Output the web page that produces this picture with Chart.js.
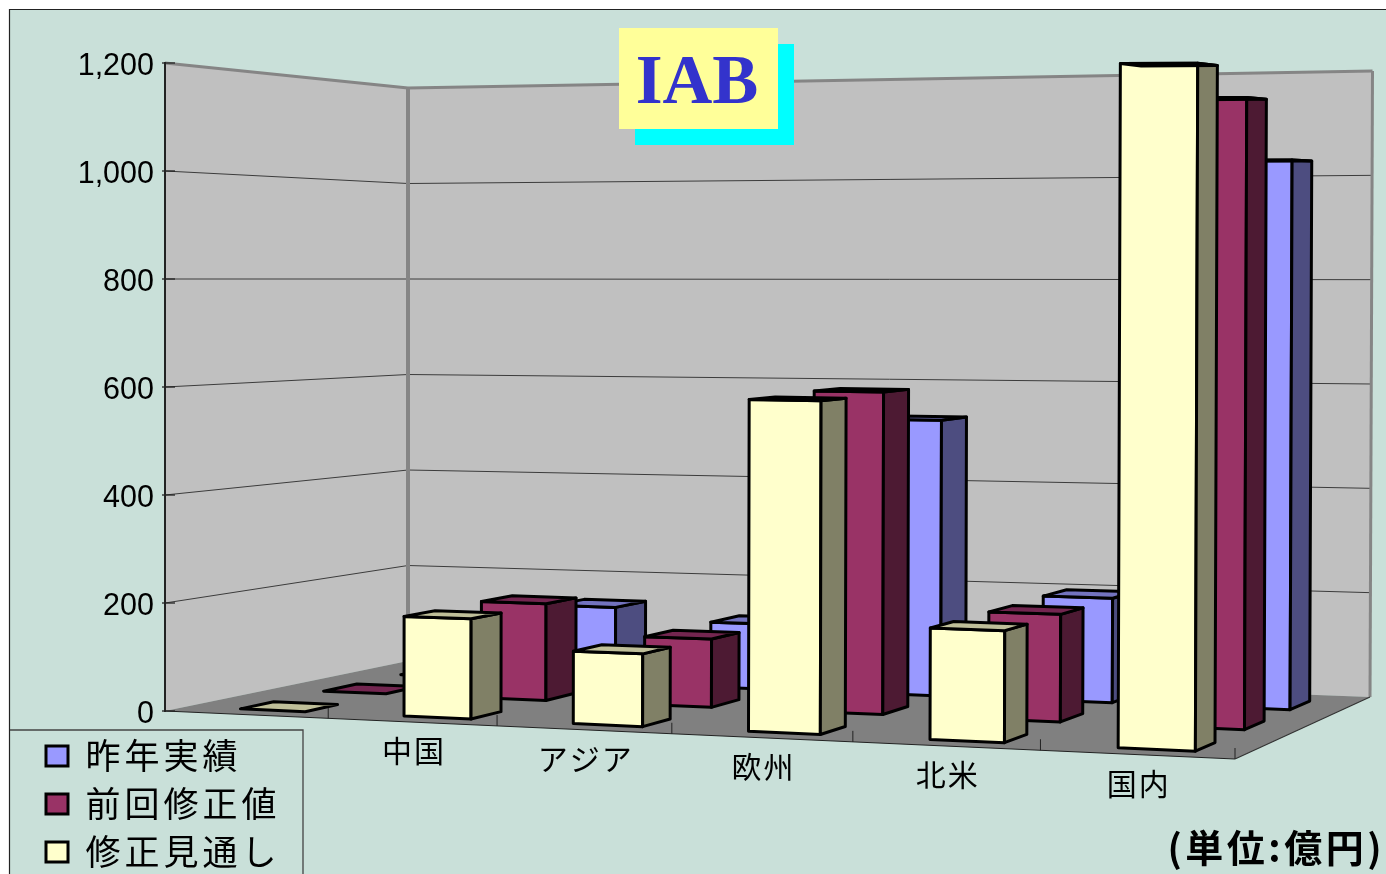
<!DOCTYPE html>
<html lang="ja">
<head>
<meta charset="utf-8">
<title>IAB</title>
<style>
html,body{margin:0;padding:0;background:#fff;}
canvas{display:block;}
</style>
<script src="https://cdn.jsdelivr.net/npm/chart.js@4/dist/chart.umd.min.js"></script>
</head>
<body>
<canvas id="c" width="1386" height="874"></canvas>
<script>
const categories = ['', '中国', 'アジア', '欧州', '北米', '国内'];
const seriesNames = ['昨年実績', '前回修正値', '修正見通し'];
const lastYearActual = [0, 150, 127, 530, 198, 1027];
const previousRevision = [0, 184, 128, 596, 196, 1136];
const revisedOutlook = [0, 183, 131, 592, 196, 1187];
const axisTop = 1200;
const axisStep = 200;
const chartTitle = 'IAB';
const unitNote = '(単位:億円)';

const PAGE_BG = '#c9e0d9', WALL = '#c0c0c0', FLOOR = '#808080', EDGE = '#858585', GRID = '#3c3c3c';
const FACE = ['#9999ff', '#993366', '#ffffcc'];
const SIDE = ['#4d4d80', '#4d1a33', '#808066'];
const TOP = ['#7373bf', '#732650', '#bfbf99'];
const ROW_FRONT = [0.765, 0.44, 0.09], ROW_DEPTH = 0.14;
const BAR_SPAN = 0.4, BAR_SHIFT = 0.035;
const FONT_CJK = '"Noto Sans CJK JP", "Noto Sans", sans-serif';

/* 3-D view of the chart box: back floor corners and the wall height at each floor corner */
const VIEW = {fr: {x: 1235, y: 759}, bl: {x: 408, y: 661}, br: {x: 1370, y: 697},
              hFR: 705, hBL: 573, hBR: 626, persp: -0.1, lean: 2.5};
const lerp = (a, b, t) => a + (b - a) * t;
const proj = (a, b, u) => (a + (b * (1 + VIEW.persp) - a) * u) / (1 + VIEW.persp * u);

/* (u along categories, w into depth, value) -> screen, driven by the chart's own scales */
function project(chart, u, w, value) {
  const sy = chart.scales.y, fl = {x: chart.chartArea.left, y: chart.chartArea.bottom};
  const xF = proj(fl.x, VIEW.fr.x, u), xB = proj(VIEW.bl.x, VIEW.br.x, u);
  const yF = lerp(fl.y, VIEW.fr.y, (xF - fl.x) / (VIEW.fr.x - fl.x));
  const yB = lerp(VIEW.bl.y, VIEW.br.y, (xB - VIEW.bl.x) / (VIEW.br.x - VIEW.bl.x));
  const frac = (sy.bottom - sy.getPixelForValue(value)) / sy.height;
  const h = lerp(lerp(sy.height, VIEW.hFR, u), lerp(VIEW.hBL, VIEW.hBR, u), w) * frac;
  return {x: lerp(xF, xB, w) + VIEW.lean * u * frac, y: lerp(yF, yB, w) - h};
}
function poly(ctx, pts, fill, stroke, lw) {
  ctx.beginPath();
  pts.forEach((p, i) => i ? ctx.lineTo(p.x, p.y) : ctx.moveTo(p.x, p.y));
  ctx.closePath();
  if (fill) { ctx.fillStyle = fill; ctx.fill(); }
  if (stroke) { ctx.strokeStyle = stroke; ctx.lineWidth = lw; ctx.lineJoin = 'round'; ctx.stroke(); }
}
function seg(ctx, a, b, color, lw) {
  ctx.beginPath(); ctx.moveTo(a.x, a.y); ctx.lineTo(b.x, b.y);
  ctx.strokeStyle = color; ctx.lineWidth = lw; ctx.stroke();
}

const scene = {
  id: 'scene',
  afterLayout(chart) {
    const lg = chart.legend, sy = chart.scales.y;
    if (lg) {
      lg.left = 33; lg.top = 725.5; lg.right = 303; lg.bottom = 1100;
      if (!lg._spaced) {
        lg._spaced = true;
        const draw = lg.draw;
        lg.draw = function () {
          const c = this.ctx; c.save(); c.letterSpacing = '4px'; draw.call(this); c.restore();
        };
      }
    }
    if (!sy._nudged) {
      sy._nudged = true;
      const drawLabels = sy.drawLabels;
      sy.drawLabels = function (area) {
        const c = this.ctx; c.save(); c.translate(0, 3.5); drawLabels.call(this, area); c.restore();
      };
    }
  },
  beforeDraw(chart) {
    const c = chart.ctx, P = (u, w, v) => project(chart, u, w, v), top = axisTop;
    c.save();
    c.fillStyle = '#fff'; c.fillRect(0, 0, 1386, 874);
    c.fillStyle = PAGE_BG; c.fillRect(10, 10, 1376, 864);
    c.strokeStyle = '#222'; c.lineWidth = 1.2;
    c.beginPath(); c.moveTo(9.5, 874); c.lineTo(9.5, 9.5); c.lineTo(1386, 9.5); c.stroke();
    // walls and floor
    poly(c, [P(0,0,0), P(0,0,top), P(0,1,top), P(0,1,0)], WALL);
    poly(c, [P(0,1,0), P(0,1,top), P(1,1,top), P(1,1,0)], WALL);
    poly(c, [P(0,0,0), P(1,0,0), P(1,1,0), P(0,1,0)], FLOOR);
    // gridlines from the value scale
    chart.scales.y.ticks.forEach(t => {
      if (t.value !== 0 && t.value !== top) {
        seg(c, P(0,0,t.value), P(0,1,t.value), GRID, 1);
        seg(c, P(0,1,t.value), P(1,1,t.value), GRID, 1);
      }
    });
    // wall edges
    seg(c, P(0,0,top), P(0,1,top), EDGE, 3);
    seg(c, P(0,1,top), P(1,1,top), EDGE, 3);
    seg(c, P(0,1,0), P(0,1,top), EDGE, 4);
    seg(c, P(1,1,0), P(1,1,top), EDGE, 3);
    // axis tick marks
    chart.scales.y.ticks.forEach(t => {
      const a = P(0, 0, t.value);
      seg(c, {x: a.x - 3, y: a.y}, {x: a.x + 10, y: a.y}, '#222', 1.3);
    });
    // floor edges and category ticks
    seg(c, P(0,0,0), P(1,0,0), '#222', 1.2);
    seg(c, P(1,0,0), P(1,1,0), '#333', 1.2);
    const n = categories.length;
    for (let i = 1; i <= n; i++) {
      const a = P(i / n, 0, 0);
      seg(c, a, {x: a.x, y: a.y - 11}, '#222', 1);
    }
    // legend frame
    c.strokeStyle = '#444'; c.lineWidth = 1.3;
    c.beginPath(); c.moveTo(10, 730); c.lineTo(303, 730); c.lineTo(303, 874); c.stroke();
    c.restore();
  },
  beforeDatasetsDraw(chart) {
    const c = chart.ctx, sx = chart.scales.x, catW = sx.width / categories.length;
    c.save();
    chart.data.datasets.forEach((ds, j) => {
      ds.data.forEach((v, i) => {
        const mid = sx.getPixelForValue(i) + BAR_SHIFT * catW;
        const u0 = (mid - BAR_SPAN / 2 * catW - sx.left) / sx.width;
        const u1 = (mid + BAR_SPAN / 2 * catW - sx.left) / sx.width;
        const w0 = ROW_FRONT[j], w1 = w0 + ROW_DEPTH;
        const P = (u, w, val) => project(chart, u, w, val);
        if (v > 0) {
          poly(c, [P(u0,w0,0), P(u1,w0,0), P(u1,w0,v), P(u0,w0,v)], FACE[j], '#000', 3);
          poly(c, [P(u1,w0,0), P(u1,w1,0), P(u1,w1,v), P(u1,w0,v)], SIDE[j], '#000', 3);
        }
        poly(c, [P(u0,w0,v), P(u1,w0,v), P(u1,w1,v), P(u0,w1,v)], TOP[j], '#000', 3);
      });
    });
    c.restore();
    return false;
  },
  afterDraw(chart) {
    const c = chart.ctx, sx = chart.scales.x;
    c.save();
    // category labels follow the slanted front edge
    c.fillStyle = '#000'; c.font = '30px ' + FONT_CJK;
    c.textAlign = 'center'; c.textBaseline = 'middle';
    c.letterSpacing = '2px';
    categories.forEach((label, i) => {
      if (!label) return;
      const a = project(chart, (sx.getPixelForValue(i) - sx.left) / sx.width, 0, 0);
      c.fillText(sx.getLabelForValue(i), a.x + 2, a.y + 29);
    });
    // title plate
    c.letterSpacing = '0px';
    c.fillStyle = '#00ffff'; c.fillRect(635, 44, 159, 101);
    c.fillStyle = '#ffff99'; c.fillRect(619, 28, 159, 101);
    c.fillStyle = '#3333cc'; c.font = 'bold 69px "Liberation Serif", serif';
    c.textBaseline = 'alphabetic';
    c.fillText(chartTitle, 697, 103);
    // unit note
    c.fillStyle = '#000'; c.font = 'bold 38px ' + FONT_CJK;
    c.textAlign = 'right'; c.letterSpacing = '3.5px';
    c.fillText(unitNote, 1385, 862);
    c.restore();
  }
};

new Chart(document.getElementById('c'), {
  type: 'bar',
  data: {
    labels: categories,
    datasets: [
      {label: seriesNames[0], data: lastYearActual, backgroundColor: FACE[0], borderColor: '#000', borderWidth: 3},
      {label: seriesNames[1], data: previousRevision, backgroundColor: FACE[1], borderColor: '#000', borderWidth: 3},
      {label: seriesNames[2], data: revisedOutlook, backgroundColor: FACE[2], borderColor: '#000', borderWidth: 3}
    ]
  },
  options: {
    responsive: false,
    animation: false,
    devicePixelRatio: 1,
    layout: {padding: {left: 0, top: 63, right: 151, bottom: 163}},
    plugins: {
      title: {display: false},
      tooltip: {enabled: false},
      legend: {
        position: 'chartArea', align: 'start',
        labels: {
          color: '#000', boxWidth: 22, boxHeight: 20, padding: 13,
          font: {family: FONT_CJK, size: 35}
        }
      }
    },
    scales: {
      x: {display: false, offset: true},
      y: {
        min: 0, max: axisTop,
        afterFit(s) { s.width = 165; },
        ticks: {stepSize: axisStep, color: '#000', padding: 11,
                font: {family: '"Liberation Sans", Arial, sans-serif', size: 30.5}},
        grid: {drawOnChartArea: false, tickLength: 0},
        border: {display: true, color: '#222', width: 2}
      }
    }
  },
  plugins: [scene]
});
</script>
</body>
</html>
